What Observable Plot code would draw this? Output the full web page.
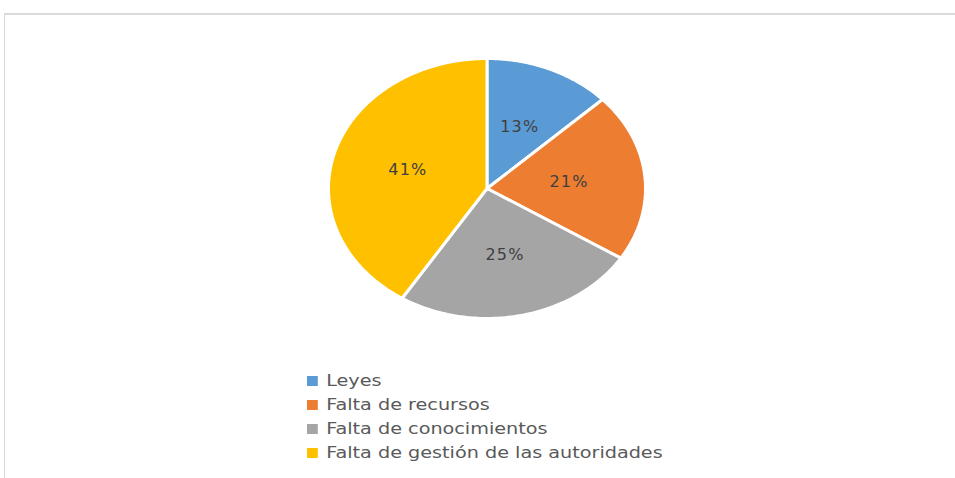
<!DOCTYPE html>
<html>
<head>
<meta charset="utf-8">
<script src="https://cdn.jsdelivr.net/npm/d3@7"></script>
<script src="https://cdn.jsdelivr.net/npm/@observablehq/plot@0.6"></script>
<style>
  html, body { margin: 0; padding: 0; background: #fff; width: 955px; height: 478px; overflow: hidden; }
  #frame { position: absolute; left: 4px; top: 13px; width: 951px; height: 465px;
           border-top: 2px solid #dadada; border-left: 1px solid #dadada; box-sizing: border-box; }
  #chart { position: absolute; left: 0; top: 0; }
  #chart text { letter-spacing: 1.2px; }
  #legend { position: absolute; left: 307px; top: 369px; transform: scaleX(1.2); transform-origin: 0 0; }
  #legend, #legend * { font-family: "DejaVu Sans", sans-serif !important; font-size: 16px !important; color: #595959 !important; }
  #legend div { line-height: 24px; padding-bottom: 0 !important; margin: 0 !important; }
  #legend svg { margin-right: 7px !important; }
</style>
</head>
<body>
<div id="frame"></div>
<div id="chart"></div>
<div id="legend"></div>
<script>
const categories = ["Leyes", "Falta de recursos", "Falta de conocimientos", "Falta de gestión de las autoridades"];
const values = [13, 21, 25, 41];
const labels = ["13%", "21%", "25%", "41%"];
const colors = ["#5B9BD5", "#ED7D31", "#A5A5A5", "#FFC000"];

const total = d3.sum(values);
// slices clockwise from 12 o'clock
const slices = [];
let acc = 0;
values.forEach((v, i) => {
  slices.push({cat: categories[i], label: labels[i], a0: acc / total * 2 * Math.PI, a1: (acc + v) / total * 2 * Math.PI});
  acc += v;
});
const pts = [];
for (const s of slices) {
  pts.push({cat: s.cat, x: 0, y: 0});
  const n = Math.max(2, Math.ceil((s.a1 - s.a0) / (Math.PI / 180)));
  for (let k = 0; k <= n; k++) {
    const a = s.a0 + (s.a1 - s.a0) * k / n;
    pts.push({cat: s.cat, x: Math.sin(a), y: Math.cos(a)});
  }
}
const lab = slices.map(s => {
  const m = (s.a0 + s.a1) / 2;
  return {label: s.label, x: 0.52 * Math.sin(m), y: 0.52 * Math.cos(m)};
});

const color = {domain: categories, range: colors};
const chart = Plot.plot({
  width: 955,
  height: 365,
  x: {domain: [-1, 1], range: [328, 645], axis: null},
  y: {domain: [-1, 1], range: [318, 58], axis: null},
  color,
  style: {background: "transparent"},
  marks: [
    Plot.line(pts, {x: "x", y: "y", z: "cat", fill: "cat", stroke: "white", strokeWidth: 3, curve: "linear-closed", strokeLinejoin: "round"}),
    Plot.text(lab, {x: "x", y: "y", text: "label", fill: "#404040", fontSize: 16, fontFamily: "DejaVu Sans, sans-serif"})
  ]
});
document.getElementById("chart").appendChild(chart);

const legend = Plot.legend({color: {...color, legend: "swatches"}, columns: 1, swatchWidth: 9, swatchHeight: 10});
document.getElementById("legend").appendChild(legend);
</script>
</body>
</html>
